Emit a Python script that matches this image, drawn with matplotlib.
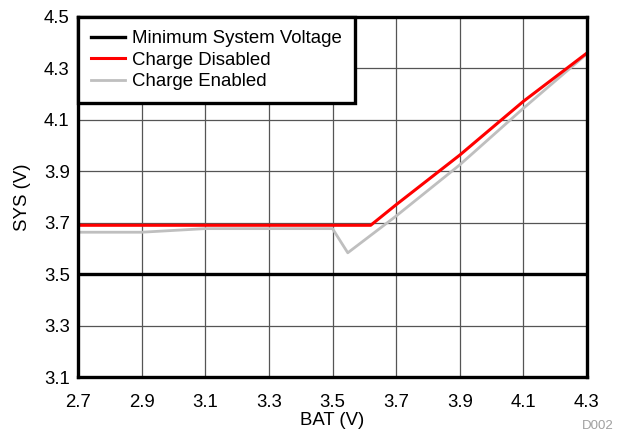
import matplotlib
matplotlib.use("Agg")
import matplotlib.pyplot as plt

# ─── data ───────────────────────────────────────────────────────────────────
min_sys_x = [2.7, 4.3]
min_sys_y = [3.5, 3.5]

dis_x = [2.7, 3.62, 3.7, 3.9, 4.1, 4.2, 4.3]
dis_y = [3.69, 3.69, 3.77, 3.963, 4.172, 4.266, 4.36]

en_x = [2.7, 2.9, 3.1, 3.5, 3.548, 3.7, 3.9, 4.1, 4.3]
en_y = [3.663, 3.663, 3.677, 3.677, 3.583, 3.726, 3.925, 4.145, 4.357]

x_ticks = [2.7, 2.9, 3.1, 3.3, 3.5, 3.7, 3.9, 4.1, 4.3]
y_ticks = [3.1, 3.3, 3.5, 3.7, 3.9, 4.1, 4.3, 4.5]

plt.rcParams["font.family"] = ["Liberation Sans", "DejaVu Sans"]
FS = 13.4

fig = plt.figure(figsize=(6.18, 4.34), dpi=100)
ax = fig.add_axes([78 / 618, 57 / 434, 509 / 618, 360 / 434])

ax.plot(min_sys_x, min_sys_y, color="black", lw=2.4, label="Minimum System Voltage", zorder=4)
ax.plot(dis_x, dis_y, color="#ff0000", lw=2.2, label="Charge Disabled", zorder=6)
ax.plot(en_x, en_y, color="#bfbfbf", lw=2.0, label="Charge Enabled", zorder=5)

ax.set_xlim(2.7, 4.3)
ax.set_ylim(3.1, 4.5)
ax.set_xticks(x_ticks)
ax.set_yticks(y_ticks)
ax.set_xticklabels([f"{v:.1f}" for v in x_ticks], fontsize=FS)
ax.set_yticklabels([f"{v:.1f}" for v in y_ticks], fontsize=FS)
ax.tick_params(length=0, pad=6)
ax.tick_params(axis="x", pad=12)
ax.grid(True, color="#555555", lw=0.9, zorder=1)

for s in ax.spines.values():
    s.set_linewidth(2.4)
    s.set_color("black")
    s.set_zorder(10)

ax.set_xlabel("BAT (V)", fontsize=FS, labelpad=1)
ax.set_ylabel("SYS (V)", fontsize=FS, labelpad=9)

leg = ax.legend(loc="upper left", borderaxespad=0, fancybox=False,
                framealpha=1, edgecolor="black", fontsize=FS,
                handlelength=1.8, handletextpad=0.4, labelspacing=0.25,
                borderpad=0.7)
leg.get_frame().set_linewidth(2.4)
leg.set_zorder(20)

fig.text(614 / 618, 1 - 426 / 434, "D002", color="#a0a0a0", fontsize=9.5,
         ha="right", va="center")

fig.savefig("out.png", dpi=100)
